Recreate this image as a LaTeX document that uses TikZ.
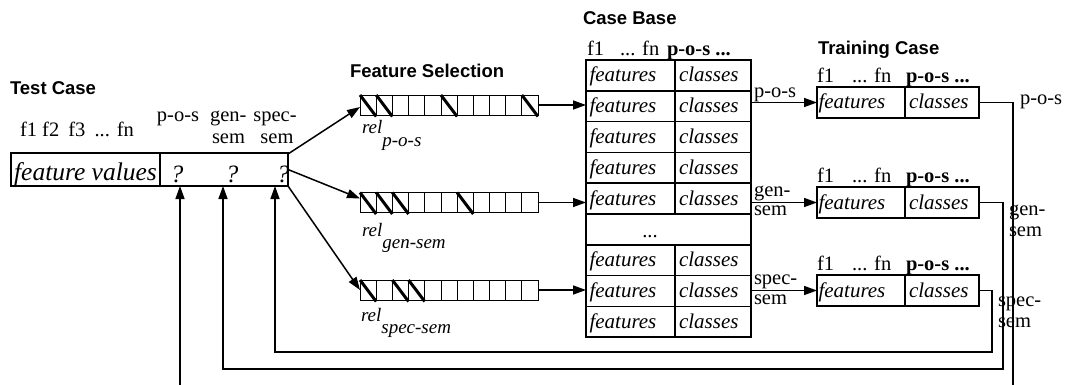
\documentclass[tikz,border=0pt]{standalone}
\usepackage{fontspec}
\setmainfont{Liberation Serif}
\newfontfamily\headfont{Liberation Sans}
\usetikzlibrary{arrows.meta}
\tikzset{
  every node/.style={inner sep=0pt, outer sep=0pt},
  heading/.style={font=\headfont\bfseries\fontsize{18.5}{20}\selectfont, anchor=base west},
  txt/.style={font=\fontsize{20.5}{22}\selectfont, anchor=base west},
  reltxt/.style={font=\itshape\fontsize{19}{21}\selectfont, anchor=base west},
  box/.style={draw, line width=1.6pt},
  celltext/.style={align=left, text height=16pt, text depth=3pt,
    font=\itshape\fontsize{21}{23}\selectfont},
  fcell/.style={box, celltext, minimum height=30.8pt, minimum width=89pt, text width=82pt, inner xsep=3.5pt},
  ccell/.style={box, celltext, minimum height=30.8pt, minimum width=76pt, text width=68pt, inner xsep=4pt},
  tfcell/.style={box, celltext, minimum height=31pt, minimum width=88pt, text width=85pt, inner xsep=1.5pt},
  tccell/.style={box, celltext, minimum height=31pt, minimum width=74pt, text width=66pt, inner xsep=4pt},
  relbar/.style={draw, line width=0.8pt, minimum width=178pt, minimum height=20pt},
  hatch/.style={line width=3pt},
  arr/.style={line width=1.5pt, -{Triangle[length=13pt,width=9pt]}},
  link/.style={line width=1.5pt},
  qmark/.style={font=\itshape\fontsize{25}{27}\selectfont, anchor=base},
}
\begin{document}
\begin{tikzpicture}[x=1pt, y=-1pt]
\useasboundingbox (0,0) rectangle (1065,385);

% ---------- test case ----------
\node[heading] (tchead) at (10,95) {Test Case};
\node[txt] (tcfs) at (20,137) {f1 f2\hspace{4pt} f3\hspace{4pt} ... fn};
\node[txt, anchor=base] (hpos) at (178,122) {p-o-s};
\node[txt] (hgen) at (210,122) {gen-};
\node[txt] (hgen2) at (212,143) {sem};
\node[txt, anchor=base] (hspec) at (275,122) {spec-};
\node[txt, anchor=base] (hspec2) at (277,143) {sem};

\node[box, minimum width=149pt, minimum height=33pt, text height=24pt, text depth=3pt,
  font=\itshape\fontsize{25.5}{28}\selectfont] (tcfeat) at (85.5,169.5) {feature values};
\node[box, minimum width=128pt, minimum height=33pt] (tcclass) at (224,169.5) {};
\node[qmark] (q1) at (177,182) {?};
\node[qmark] (q2) at (232,182) {?};
\node[qmark] (q3) at (283,182) {?};

% ---------- feature selection ----------
\node[heading] (fshead) at (350,78) {Feature Selection};
\node[relbar] (bar1) at (449,105) {};
\node[relbar] (bar2) at (449,202.5) {};
\node[relbar] (bar3) at (449,290) {};
\foreach \b/\h in {bar1/{1,2,6,11}, bar2/{1,2,3,7}, bar3/{1,3,4}} {
  \foreach \k in {1,...,10}
    \draw[line width=0.8pt] ([xshift=\k*16.18pt]\b.north west) -- ([xshift=\k*16.18pt]\b.south west);
  \foreach \k in \h
    \draw[hatch] ([xshift={(\k-1)*16.18pt}]\b.north west) -- ([xshift={\k*16.18pt}, yshift=-1.5pt]\b.south west);
}
\node[reltxt] (rel1) at (362,134) {rel\raisebox{-13pt}{p-o-s}};
\node[reltxt] (rel2) at (362,236) {rel\raisebox{-12pt}{gen-sem}};
\node[reltxt] (rel3) at (361,321) {rel\raisebox{-12pt}{spec-sem}};

\draw[arr] ([yshift=-1pt]tcclass.north east) -- ([yshift=-2pt]bar1.west);
\draw[arr] (tcclass.east) -- ([yshift=4pt]bar2.west);
\draw[arr] (tcclass.south east) -- (bar3.west);

% ---------- case base ----------
\node[heading] (cbhead) at (583,25) {Case Base};
\node[txt] (cbh1) at (587,56) {f1};
\node[txt] (cbh2) at (620,56) {... fn};
\node[txt] (cbh3) at (667,56) {\textbf{p-o-s ...}};
\foreach \r in {1,2,3,4,5,7,8,9} {
  \node[fcell] (cbf\r) at (630.5,{60+30.8*(\r-0.5)}) {features};
  \node[ccell] (cbc\r) at (713,{60+30.8*(\r-0.5)}) {classes};
}
\node[box, minimum width=165pt, minimum height=30.8pt] (cbdots) at (668.5,{60+30.8*5.5}) {};
\node[txt, anchor=base] (cbdotstxt) at (650,237) {...};

\draw[arr] (bar1.east) -- (bar1.east -| cbf2.west);
\draw[arr] (bar2.east) -- (bar2.east -| cbf5.west);
\draw[arr] (bar3.east) -- (bar3.east -| cbf8.west);

% ---------- training cases ----------
\node[heading] (trhead) at (818,55) {Training Case};
\foreach \t/\y/\hy in {1/102.5/83, 2/202.5/182, 3/290.5/270} {
  \node[txt] (th1\t) at (817,\hy) {f1};
  \node[txt] (th2\t) at (852,\hy) {... fn};
  \node[txt] (th3\t) at (906,\hy) {\textbf{p-o-s ...}};
  \node[tfcell] (trf\t) at (861,\y) {features};
  \node[tccell] (trc\t) at (942,\y) {classes};
}

\draw[arr] (cbc2.east |- trf1.west) -- (trf1.west);
\draw[arr] (cbc5.east |- trf2.west) -- (trf2.west);
\draw[arr] (cbc8.east |- trf3.west) -- (trf3.west);
\node[txt] (opos) at (754,98) {p-o-s};
\node[txt] (ogen) at (754,196) {gen-};
\node[txt] (ogen2) at (754,215) {sem};
\node[txt] (ospec) at (754,284) {spec-};
\node[txt] (ospec2) at (754,304) {sem};

% ---------- feedback to the test case ----------
\coordinate (posout) at (1013,385);
\coordinate (posin) at (180,385);
\draw[link] (trc1.east) -| (posout);
\draw[arr] (posin) -- (posin |- tcclass.south);
\draw[arr] (trc2.east) -| (1003,369) -| ([xshift=63pt]tcclass.south west);
\draw[arr] (trc3.east) -| (992,352) -| ([xshift=115pt]tcclass.south west);
\node[txt] (rpos) at (1020,105) {p-o-s};
\node[txt] (rgen) at (1009,215) {gen-};
\node[txt] (rgen2) at (1009,236) {sem};
\node[txt] (rspec) at (998,306) {spec-};
\node[txt] (rspec2) at (998,327) {sem};
\end{tikzpicture}
\end{document}
